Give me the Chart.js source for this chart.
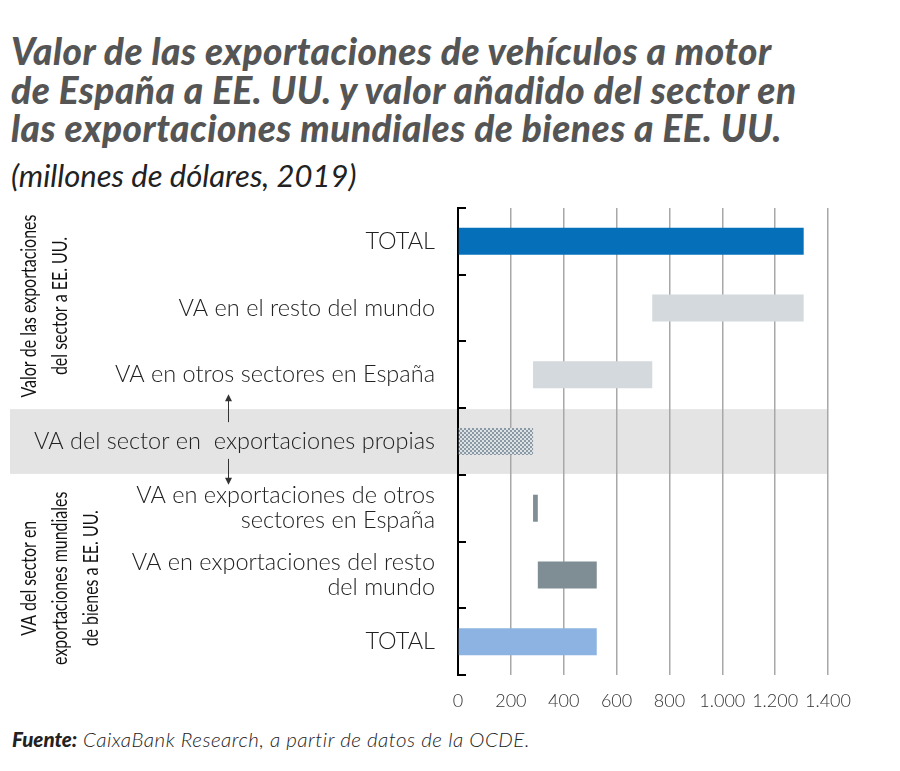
<!DOCTYPE html>
<html lang="es">
<head>
<meta charset="utf-8">
<script src="https://cdn.jsdelivr.net/npm/chart.js@4/dist/chart.umd.min.js"></script>
<style>
  body{margin:0;background:#fff;width:900px;height:771px;position:relative;overflow:hidden;font-family:Lato,"Open Sans",sans-serif}
  #title{position:absolute;left:11px;top:32px;font-size:37px;line-height:38.5px;font-weight:900;font-style:italic;color:#555;letter-spacing:0.5px;white-space:nowrap}
  #sub{position:absolute;left:11px;top:157px;font-size:31px;line-height:37px;font-style:italic;color:#222}
  #wrap{position:absolute;left:0;top:200px;width:900px;height:520px}
  #src{position:absolute;left:12px;top:727px;font-size:20.5px;line-height:24px;font-style:italic;color:#222;font-weight:300;letter-spacing:0.5px}
  #src b{font-weight:900;letter-spacing:0}
</style>
</head>
<body>
<div id="title">Valor de las exportaciones de vehículos a motor<br>de España a EE. UU. y valor añadido del sector en<br>las exportaciones mundiales de bienes a EE. UU.</div>
<div id="sub">(millones de dólares, 2019)</div>
<div id="wrap"><canvas id="chart"></canvas></div>
<div id="src"><b>Fuente:</b> CaixaBank Research, a partir de datos de la OCDE.</div>
<script>
const categories = [
  'TOTAL',
  'VA en el resto del mundo',
  'VA en otros sectores en España',
  'VA del sector en  exportaciones propias',
  ['VA en exportaciones de otros', 'sectores en España'],
  ['VA en exportaciones del resto', 'del mundo'],
  'TOTAL'
];
const barStart = [0, 735, 284, 0, 284, 302, 0];
const barEnd = [1308, 1308, 735, 284, 302, 525, 525];
const xTicks = [0, 200, 400, 600, 800, 1000, 1200, 1400];
const xTickLabels = ['0', '200', '400', '600', '800', '1.000', '1.200', '1.400'];
const groupTop = ['Valor de las exportaciones', 'del sector a EE. UU.'];
const groupBottom = ['VA del sector en', 'exportaciones mundiales', 'de bienes a EE. UU.'];

function checker(){
  const c = document.createElement('canvas');
  c.width = 4; c.height = 4;
  const g = c.getContext('2d');
  g.fillStyle = '#dde2e5';
  g.fillRect(0, 0, 4, 4);
  g.fillStyle = '#8a99a3';
  g.fillRect(0, 0, 2, 2);
  g.fillRect(2, 2, 2, 2);
  return g.createPattern(c, 'repeat');
}

const colors = ['#0570b9', '#d3d9dc', '#d3d9dc', checker(), '#7f8e95', '#7f8e95', '#8db3e2'];

// gray band, inward ticks, arrows and rotated group labels
const extras = {
  id: 'extras',
  beforeDraw(chart){
    const {ctx, chartArea:a} = chart;
    const row = (a.bottom - a.top) / categories.length;
    ctx.save();
    ctx.fillStyle = '#e4e4e4';
    ctx.fillRect(10, a.top + row*3 + 1, a.right - 10, row - 2);
    ctx.restore();
  },
  afterDraw(chart){
    const {ctx, chartArea:a} = chart;
    const row = (a.bottom - a.top) / categories.length;
    ctx.save();
    ctx.strokeStyle = '#000';
    ctx.lineWidth = 2;
    for(let i = 0; i <= categories.length; i++){
      const y = Math.round(a.top + row*i);
      ctx.beginPath();
      ctx.moveTo(a.left, y);
      ctx.lineTo(a.left + 8, y);
      ctx.stroke();
    }
    // arrows
    const ax = 228, bandTop = a.top + row*3, bandBot = a.top + row*4;
    ctx.strokeStyle = '#333';
    ctx.fillStyle = '#333';
    ctx.lineWidth = 1;
    const arrow = (y1, y2) => {
      ctx.beginPath(); ctx.moveTo(ax + 0.5, y1); ctx.lineTo(ax + 0.5, y2); ctx.stroke();
      const d = y2 > y1 ? 1 : -1;
      ctx.beginPath();
      ctx.moveTo(ax + 0.5, y2 + d*2);
      ctx.lineTo(ax - 3, y2 - d*5);
      ctx.lineTo(ax + 4, y2 - d*5);
      ctx.closePath(); ctx.fill();
    };
    arrow(bandTop + 14, bandTop - 12);
    arrow(bandBot - 16, bandBot + 8);
    // rotated group labels, condensed
    ctx.font = '21px Lato, sans-serif';
    ctx.fillStyle = '#111';
    ctx.textAlign = 'center';
    ctx.textBaseline = 'middle';
    const vlabel = (lines, cy) => {
      lines.forEach((t, i) => {
        ctx.save();
        ctx.translate(29 + i*31, cy);
        ctx.rotate(-Math.PI/2);
        ctx.scale(0.76, 1);
        ctx.fillText(t, 0, 0);
        ctx.restore();
      });
    };
    vlabel(groupTop, a.top + row*1.47);
    vlabel(groupBottom, a.top + row*5.55);
    ctx.restore();
  }
};

new Chart(document.getElementById('chart'), {
  type: 'bar',
  data: {
    labels: categories,
    datasets: [{
      data: barStart.map((s, i) => [s, barEnd[i]]),
      backgroundColor: colors,
      borderWidth: 0,
      barPercentage: 0.405,
      categoryPercentage: 1
    }]
  },
  options: {
    indexAxis: 'y',
    responsive: true,
    maintainAspectRatio: false,
    animation: false,
    layout: {padding: {top: 8, right: 72, left: 0, bottom: 0}},
    plugins: {legend: {display: false}, tooltip: {enabled: false}},
    scales: {
      x: {
        min: 0, max: 1400,
        afterBuildTicks: s => { s.ticks = xTicks.map(v => ({value: v})); },
        afterFit: s => { s.height = 45; },
        grid: {color: '#a8a8a8', lineWidth: 1.5, drawTicks: false},
        border: {display: false},
        ticks: {
          padding: 15,
          color: '#333',
          font: {family: 'Lato', size: 18, weight: 300},
          callback: (v, i) => xTickLabels[i]
        }
      },
      y: {
        afterFit: s => { s.width = 458; s.paddingTop = 0; s.paddingBottom = 0; },
        grid: {display: false, drawTicks: false},
        border: {display: true, color: '#000', width: 2},
        ticks: {
          padding: 23,
          color: '#222',
          font: {family: 'Lato', size: 23.5, weight: 300, lineHeight: 1.07}
        }
      }
    }
  },
  plugins: [extras]
});
</script>
</body>
</html>
